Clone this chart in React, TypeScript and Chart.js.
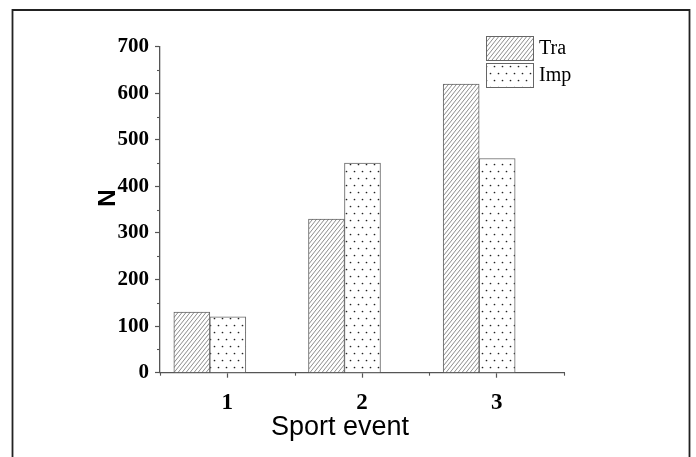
import React, { useEffect, useRef } from 'react';
import { Chart, registerables } from 'chart.js';

Chart.register(...registerables);

// ---- data ----
const categories = [1, 2, 3];
const traValues = [130, 330, 620];
const impValues = [120, 450, 460];
const seriesNames = ['Tra', 'Imp'];
const yTicks = [0, 100, 200, 300, 400, 500, 600, 700];
const xAxisTitle = 'Sport event';
const yAxisTitle = 'N';

const AXIS_COLOR = '#555';
const BAR_BORDER = '#666';

function makeHatch(): CanvasPattern | string {
  const c = document.createElement('canvas');
  const w = 4;
  const h = 5;
  c.width = w;
  c.height = h;
  const g = c.getContext('2d');
  if (!g) return '#fff';
  g.fillStyle = '#fff';
  g.fillRect(0, 0, w, h);
  g.strokeStyle = '#777';
  g.lineWidth = 0.85;
  for (let k = -1; k <= 1; k++) {
    g.beginPath();
    g.moveTo(k * w, h);
    g.lineTo(k * w + w, 0);
    g.stroke();
  }
  return g.createPattern(c, 'repeat') || '#fff';
}

function makeDots(): CanvasPattern | string {
  const c = document.createElement('canvas');
  c.width = 8;
  c.height = 14;
  const g = c.getContext('2d');
  if (!g) return '#fff';
  g.fillStyle = '#fff';
  g.fillRect(0, 0, 8, 14);
  g.fillStyle = '#222';
  g.beginPath();
  g.arc(2.5, 3.5, 0.85, 0, Math.PI * 2);
  g.fill();
  g.beginPath();
  g.arc(6.5, 10.5, 0.85, 0, Math.PI * 2);
  g.fill();
  return g.createPattern(c, 'repeat') || '#fff';
}

const decorPlugin = {
  id: 'decor',
  afterDraw(chart: any) {
    const ctx: CanvasRenderingContext2D = chart.ctx;
    const ys = chart.scales.y;
    const xs = chart.scales.x;
    ctx.save();
    // outer frame (left, top, right)
    ctx.strokeStyle = '#222';
    ctx.lineWidth = 1.8;
    ctx.beginPath();
    ctx.moveTo(12.5, 460);
    ctx.lineTo(12.5, 10);
    ctx.lineTo(689.5, 10);
    ctx.lineTo(689.5, 460);
    ctx.stroke();

    // minor ticks
    ctx.strokeStyle = AXIS_COLOR;
    ctx.lineWidth = 1.1;
    for (let i = 0; i < yTicks.length - 1; i++) {
      const v = (yTicks[i] + yTicks[i + 1]) / 2;
      const py = Math.round(ys.getPixelForValue(v)) + 0.5;
      ctx.beginPath();
      ctx.moveTo(ys.right, py);
      ctx.lineTo(ys.right - 3, py);
      ctx.stroke();
    }
    const minorX = [categories[0] - 0.5, ...categories.map((c) => c + 0.5)];
    for (const v of minorX) {
      const px = Math.round(xs.getPixelForValue(v)) + 0.5;
      ctx.beginPath();
      ctx.moveTo(px, xs.top);
      ctx.lineTo(px, xs.top + 3);
      ctx.stroke();
    }

    // legend
    chart.data.datasets.forEach((ds: any, i: number) => {
      const bx = 486;
      const by = 36 + i * 27;
      ctx.fillStyle = ds.backgroundColor;
      ctx.fillRect(bx, by, 47, 24);
      ctx.strokeStyle = BAR_BORDER;
      ctx.lineWidth = 1;
      ctx.strokeRect(bx + 0.5, by + 0.5, 47, 24);
      ctx.fillStyle = '#000';
      ctx.font = '20px "Liberation Serif"';
      ctx.textAlign = 'left';
      ctx.textBaseline = 'middle';
      ctx.fillText(ds.label, bx + 53, by + 13);
    });

    // x axis title
    ctx.fillStyle = '#000';
    ctx.font = '27px "Liberation Sans"';
    ctx.textAlign = 'center';
    ctx.textBaseline = 'alphabetic';
    ctx.fillText(xAxisTitle, 340, 435);

    // y axis title
    ctx.translate(108, 198);
    ctx.rotate(-Math.PI / 2);
    ctx.font = 'bold 24px "Liberation Sans"';
    ctx.textAlign = 'center';
    ctx.textBaseline = 'middle';
    ctx.fillText(yAxisTitle, 0, 0);
    ctx.restore();
  },
};

export default function App() {
  const ref = useRef<HTMLCanvasElement | null>(null);

  useEffect(() => {
    const canvas = ref.current;
    if (!canvas) return;
    const hatch = makeHatch();
    const dots = makeDots();
    const chart = new Chart(canvas, {
      type: 'bar',
      data: {
        datasets: [
          {
            label: seriesNames[0],
            data: categories.map((c, i) => ({ x: c, y: traValues[i] })),
            xAxisID: 'xb',
            yAxisID: 'y',
            backgroundColor: hatch as any,
            borderColor: BAR_BORDER,
            borderWidth: 1,
            barThickness: 36,
          },
          {
            label: seriesNames[1],
            data: categories.map((c, i) => ({ x: c, y: impValues[i] })),
            xAxisID: 'xb',
            yAxisID: 'y',
            backgroundColor: dots as any,
            borderColor: BAR_BORDER,
            borderWidth: 1,
            barThickness: 36,
          },
        ],
      },
      options: {
        animation: false,
        responsive: false,
        maintainAspectRatio: false,
        layout: { padding: { top: 46.7, right: 132, bottom: 0, left: 0 } },
        plugins: { legend: { display: false }, tooltip: { enabled: false } },
        scales: {
          xb: {
            type: 'linear',
            display: false,
            offset: false,
            grid: { offset: false },
            min: 0.63,
            max: 3.63,
          },
          x: {
            type: 'linear',
            position: 'bottom',
            offset: false,
            min: categories[0] - 0.5,
            max: categories[categories.length - 1] + 0.5,
            afterBuildTicks: (s: any) => {
              s.ticks = categories.map((v) => ({ value: v }));
            },
            afterFit: (s: any) => {
              s.height = 84.3;
            },
            grid: { offset: false, drawOnChartArea: false, tickLength: 5, tickColor: AXIS_COLOR, tickWidth: 1.2 },
            border: { display: true, color: AXIS_COLOR, width: 1.3 },
            ticks: {
              font: { family: 'Liberation Serif', size: 23, weight: 'bold' },
              color: '#000',
              padding: 12,
              callback: (v: any) => String(v),
            },
          },
          y: {
            min: yTicks[0],
            max: yTicks[yTicks.length - 1],
            afterBuildTicks: (s: any) => {
              s.ticks = yTicks.map((v) => ({ value: v }));
            },
            afterFit: (s: any) => {
              s.width = 160;
            },
            grid: { drawOnChartArea: false, tickLength: 5, tickColor: AXIS_COLOR, tickWidth: 1.2 },
            border: { display: true, color: AXIS_COLOR, width: 1.3 },
            ticks: {
              font: { family: 'Liberation Serif', size: 21, weight: 'bold' },
              color: '#000',
              padding: 6,
            },
          },
        },
      } as any,
      plugins: [decorPlugin],
    });
    return () => chart.destroy();
  }, []);

  return (
    <div style={{ position: 'fixed', left: 0, top: 0, width: 696, height: 457, background: '#fff' }}>
      <canvas ref={ref} width={696} height={457} style={{ width: 696, height: 457, display: 'block' }} />
    </div>
  );
}
